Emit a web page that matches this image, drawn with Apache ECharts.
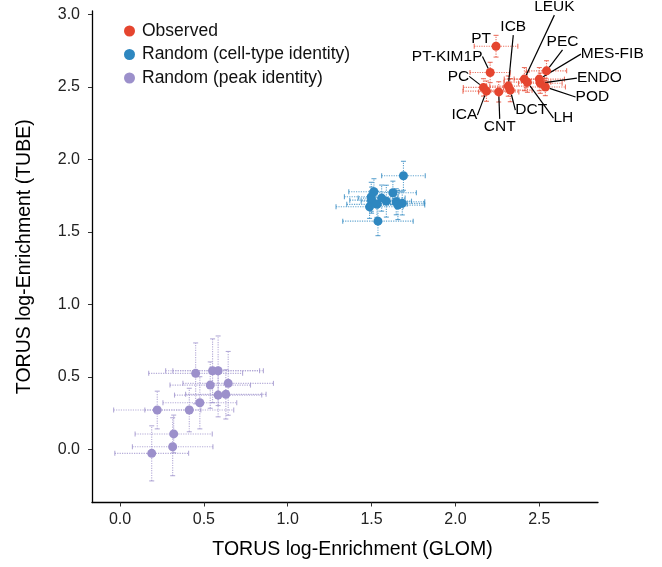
<!DOCTYPE html>
<html>
<head>
<meta charset="utf-8">
<script src="https://cdn.jsdelivr.net/npm/echarts@6/dist/echarts.min.js"></script>
<style>html,body{margin:0;padding:0;background:#fff}#c{width:662px;height:567px}</style>
</head>
<body>
<div id="c"></div>
<script>
// ---- Data ----
const obsNames = ['PT','PT-KIM1P','PC','ICA','CNT','DCT','ICB','LEUK','LH','PEC','MES-FIB','ENDO','POD'];
const obsX    = [2.242,2.207,2.167,2.185,2.258,2.327,2.315,2.411,2.429,2.543,2.500,2.506,2.536];
const obsY    = [2.781,2.600,2.497,2.471,2.466,2.478,2.506,2.554,2.533,2.611,2.554,2.526,2.500];
const obsXErr = [0.13,0.12,0.12,0.14,0.12,0.13,0.11,0.12,0.14,0.12,0.15,0.13,0.12];
const obsYErr = [0.075,0.07,0.06,0.07,0.07,0.08,0.07,0.08,0.07,0.07,0.08,0.07,0.06];

const cellX    = [1.690,1.514,1.627,1.498,1.500,1.588,1.647,1.683,1.657,1.532,1.488,1.538,1.560];
const cellY    = [1.887,1.777,1.770,1.742,1.719,1.712,1.708,1.697,1.685,1.690,1.673,1.574,1.733];
const cellXErr = [0.13,0.15,0.14,0.16,0.13,0.15,0.17,0.13,0.16,0.18,0.20,0.21,0.14];
const cellYErr = [0.10,0.09,0.08,0.10,0.09,0.11,0.09,0.08,0.10,0.09,0.08,0.10,0.09];

const peakX    = [0.451,0.552,0.585,0.645,0.538,0.585,0.631,0.476,0.222,0.413,0.320,0.314,0.189];
const peakY    = [0.524,0.542,0.542,0.455,0.443,0.374,0.379,0.321,0.271,0.271,0.106,0.018,-0.028];
const peakXErr = [0.28,0.28,0.27,0.27,0.24,0.26,0.24,0.22,0.26,0.265,0.23,0.24,0.22];
const peakYErr = [0.21,0.22,0.24,0.22,0.16,0.15,0.17,0.18,0.13,0.15,0.13,0.20,0.19];

const seriesNames = ['Observed','Random (cell-type identity)','Random (peak identity)'];
const xTicks = [0.0,0.5,1.0,1.5,2.0,2.5];
const yTicks = [0.0,0.5,1.0,1.5,2.0,2.5,3.0];

// label offsets (pixels, label centre relative to point)
const labelOffsets = {
  'PT':[-15,-8],'PT-KIM1P':[-43,-16],'PC':[-25,-11],'ICA':[-22,24],'CNT':[1,35],
  'DCT':[21,20],'ICB':[5,-59],'LEUK':[30,-72],'LH':[36,36],'PEC':[16,-29],
  'MES-FIB':[73,-25],'ENDO':[59,-5],'POD':[47,10]
};

const colors = ['#E5452F','#2E87C0','#9C90CB'];
const FONT = 'Liberation Sans, Arial, sans-serif';

function errRows(xs, ys, xe, ye){
  return xs.map((x,i)=>[x, ys[i], x-xe[i], x+xe[i], ys[i]-ye[i], ys[i]+ye[i]]);
}
function errSeries(rows, color){
  return {
    type:'custom', silent:true, z:1,
    encode:{x:[0,2,3], y:[1,4,5]},
    data: rows,
    renderItem:function(params, api){
      const x=api.value(0), y=api.value(1);
      const pL=api.coord([api.value(2),y]), pR=api.coord([api.value(3),y]);
      const pB=api.coord([x,api.value(4)]), pT=api.coord([x,api.value(5)]);
      const cap=2.5;
      const st={stroke:color, lineWidth:1.1, lineDash:[1.2,1.2], opacity:0.75};
      const stc={stroke:color, lineWidth:1.1, opacity:0.75};
      return {type:'group', children:[
        {type:'line', shape:{x1:pL[0],y1:pL[1],x2:pR[0],y2:pR[1]}, style:st},
        {type:'line', shape:{x1:pB[0],y1:pB[1],x2:pT[0],y2:pT[1]}, style:st},
        {type:'line', shape:{x1:pL[0],y1:pL[1]-cap,x2:pL[0],y2:pL[1]+cap}, style:stc},
        {type:'line', shape:{x1:pR[0],y1:pR[1]-cap,x2:pR[0],y2:pR[1]+cap}, style:stc},
        {type:'line', shape:{x1:pB[0]-cap,y1:pB[1],x2:pB[0]+cap,y2:pB[1]}, style:stc},
        {type:'line', shape:{x1:pT[0]-cap,y1:pT[1],x2:pT[0]+cap,y2:pT[1]}, style:stc}
      ]};
    }
  };
}

const chart = echarts.init(document.getElementById('c'), null, {renderer:'canvas'});
const axisCommon = {
  axisLine:{show:true, onZero:false, lineStyle:{color:'#000', width:1.3}},
  splitLine:{show:false},
  nameLocation:'middle'
};
const obsData = obsNames.map((n,i)=>{
  const item = {name:n, value:[obsX[i], obsY[i]]};
  if (n==='PT') item.labelLine = {show:false};
  return item;
});
chart.setOption({
  animation:false,
  color:colors,
  grid:{left:92, right:64, top:11, bottom:64.5, containLabel:false},
  legend:{
    data:seriesNames.map(n=>({name:n, icon:'circle'})),
    orient:'vertical', left:119, top:17,
    itemWidth:11, itemHeight:11, itemGap:5.5,
    textStyle:{fontSize:17.5, color:'#111', fontFamily:FONT, lineHeight:17, padding:[0,0,0,2]}
  },
  xAxis:Object.assign({}, axisCommon, {
    type:'value', min:-0.167, max:2.85, interval:0.5,
    name:'TORUS log-Enrichment (GLOM)', nameGap:37,
    nameTextStyle:{fontSize:19.5, color:'#000', fontFamily:FONT, padding:[0,0,0,15]},
    axisLabel:{fontSize:16, color:'#222', fontFamily:FONT, margin:9,
      customValues:xTicks, formatter:v=>v.toFixed(1)},
    axisTick:{show:true, length:4, customValues:xTicks, lineStyle:{color:'#333'}}
  }),
  yAxis:Object.assign({}, axisCommon, {
    type:'value', min:-0.367, max:3.024, interval:0.5,
    name:'TORUS log-Enrichment (TUBE)', nameGap:57,
    nameTextStyle:{fontSize:19.5, color:'#000', fontFamily:FONT},
    axisLabel:{fontSize:16, color:'#222', fontFamily:FONT, margin:12,
      customValues:yTicks, formatter:v=>v.toFixed(1)},
    axisTick:{show:true, length:4, customValues:yTicks, lineStyle:{color:'#333'}}
  }),
  series:[
    errSeries(errRows(peakX,peakY,peakXErr,peakYErr), colors[2]),
    errSeries(errRows(cellX,cellY,cellXErr,cellYErr), colors[1]),
    errSeries(errRows(obsX,obsY,obsXErr,obsYErr), colors[0]),
    {name:seriesNames[2], type:'scatter', z:3, symbolSize:9,
     data:peakX.map((x,i)=>[x,peakY[i]]), itemStyle:{color:colors[2], opacity:1}},
    {name:seriesNames[1], type:'scatter', z:3, symbolSize:9,
     data:cellX.map((x,i)=>[x,cellY[i]]), itemStyle:{color:colors[1], opacity:1}},
    {name:seriesNames[0], type:'scatter', z:4, symbolSize:9,
     data:obsData, itemStyle:{color:colors[0], opacity:1},
     label:{show:true, position:'inside', formatter:'{b}', fontSize:15.5, color:'#000', fontFamily:FONT},
     labelLine:{show:true, lineStyle:{color:'#000', width:1.2}},
     labelLayout:function(p){
       const o = labelOffsets[obsNames[p.dataIndex]] || [0,0];
       return {dx:o[0], dy:o[1]};
     }}
  ]
});
</script>
</body>
</html>
